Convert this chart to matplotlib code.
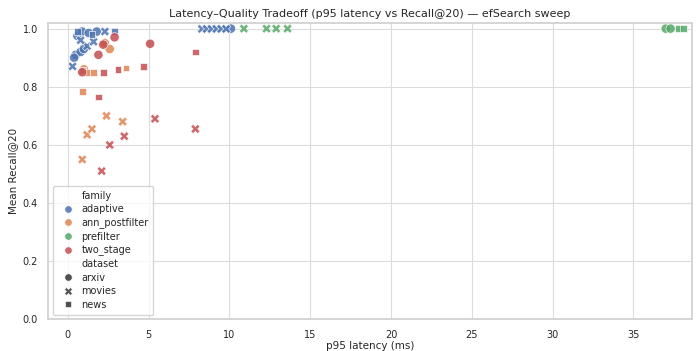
import matplotlib
matplotlib.use("Agg")
import matplotlib.pyplot as plt
import seaborn as sns
import pandas as pd

# adaptive
ad_arxiv_lat = [0.6, 0.9, 1.3, 0.5, 0.8, 1.0, 0.4, 1.8, 10.1]
ad_arxiv_rec = [0.975, 0.99, 0.985, 0.91, 0.92, 0.93, 0.90, 0.99, 1.0]
ad_movies_lat = [0.3, 1.2, 2.3, 1.6, 0.8, 8.3, 8.6, 8.9, 9.2, 9.5, 9.8]
ad_movies_rec = [0.87, 0.94, 0.99, 0.955, 0.96, 0.999, 0.999, 0.999, 0.999, 0.999, 0.999]
ad_news_lat = [2.9, 1.5, 0.6]
ad_news_rec = [0.99, 0.98, 0.99]
# ann_postfilter
ap_arxiv_lat = [2.3, 2.6, 1.0]
ap_arxiv_rec = [0.95, 0.93, 0.86]
ap_movies_lat = [0.9, 1.2, 1.5, 2.4, 3.4]
ap_movies_rec = [0.55, 0.635, 0.655, 0.70, 0.68]
ap_news_lat = [0.9, 0.9, 1.6, 3.6, 1.2]
ap_news_rec = [0.783, 0.855, 0.85, 0.865, 0.85]
# prefilter
pf_arxiv_lat = [37.0, 37.3]
pf_arxiv_rec = [1.0, 1.0]
pf_movies_lat = [10.9, 12.3, 12.9, 13.6]
pf_movies_rec = [1.0, 1.0, 1.0, 1.0]
pf_news_lat = [37.8, 38.1]
pf_news_rec = [1.0, 1.0]
# two_stage
ts_arxiv_lat = [5.1, 1.9, 2.2, 2.9, 0.9]
ts_arxiv_rec = [0.948, 0.91, 0.945, 0.97, 0.85]
ts_movies_lat = [2.6, 3.5, 5.4, 7.9, 2.1]
ts_movies_rec = [0.60, 0.63, 0.69, 0.655, 0.51]
ts_news_lat = [1.9, 3.1, 2.2, 4.7, 7.9]
ts_news_rec = [0.765, 0.86, 0.85, 0.87, 0.92]

families = ["adaptive", "ann_postfilter", "prefilter", "two_stage"]
datasets = ["arxiv", "movies", "news"]

groups = [
    ("adaptive", "arxiv", ad_arxiv_lat, ad_arxiv_rec),
    ("adaptive", "movies", ad_movies_lat, ad_movies_rec),
    ("adaptive", "news", ad_news_lat, ad_news_rec),
    ("ann_postfilter", "arxiv", ap_arxiv_lat, ap_arxiv_rec),
    ("ann_postfilter", "movies", ap_movies_lat, ap_movies_rec),
    ("ann_postfilter", "news", ap_news_lat, ap_news_rec),
    ("prefilter", "arxiv", pf_arxiv_lat, pf_arxiv_rec),
    ("prefilter", "movies", pf_movies_lat, pf_movies_rec),
    ("prefilter", "news", pf_news_lat, pf_news_rec),
    ("two_stage", "arxiv", ts_arxiv_lat, ts_arxiv_rec),
    ("two_stage", "movies", ts_movies_lat, ts_movies_rec),
    ("two_stage", "news", ts_news_lat, ts_news_rec),
]
rows = []
for fam, ds, lats, recs in groups:
    for l, r in zip(lats, recs):
        rows.append({"family": fam, "dataset": ds, "lat": l, "rec": r})
df = pd.DataFrame(rows)

sns.set_theme(style="whitegrid")
plt.rcParams['font.family'] = ['DejaVu Sans']
plt.rcParams['grid.color'] = '#dcdcdc'
plt.rcParams['grid.linewidth'] = 0.8
plt.rcParams['axes.edgecolor'] = '#d0d0d0'

fig, ax = plt.subplots(figsize=(7.0, 3.51), dpi=100)
fig.subplots_adjust(left=0.069, right=0.988, top=0.935, bottom=0.09)
sns.scatterplot(data=df, x="lat", y="rec", hue="family", style="dataset",
                hue_order=families, style_order=datasets, s=45, alpha=0.85, ax=ax)
ax.set_xlim(-1.2, 38.6)
ax.set_ylim(0, 1.02)
ax.set_xticks([0, 5, 10, 15, 20, 25, 30, 35])
ax.set_yticks([0.0, 0.2, 0.4, 0.6, 0.8, 1.0])
ax.tick_params(labelsize=7, pad=1.5)
ax.set_xlabel("p95 latency (ms)", fontsize=7.5, labelpad=1)
ax.set_ylabel("Mean Recall@20", fontsize=7.5, labelpad=3)
ax.set_title("Latency\u2013Quality Tradeoff (p95 latency vs Recall@20) \u2014 efSearch sweep", fontsize=8, pad=4)
leg = ax.legend(loc="lower left", fontsize=7, markerscale=0.8, handletextpad=0.4,
                labelspacing=0.35, borderpad=0.5)
fig.savefig("out.png", dpi=100)
